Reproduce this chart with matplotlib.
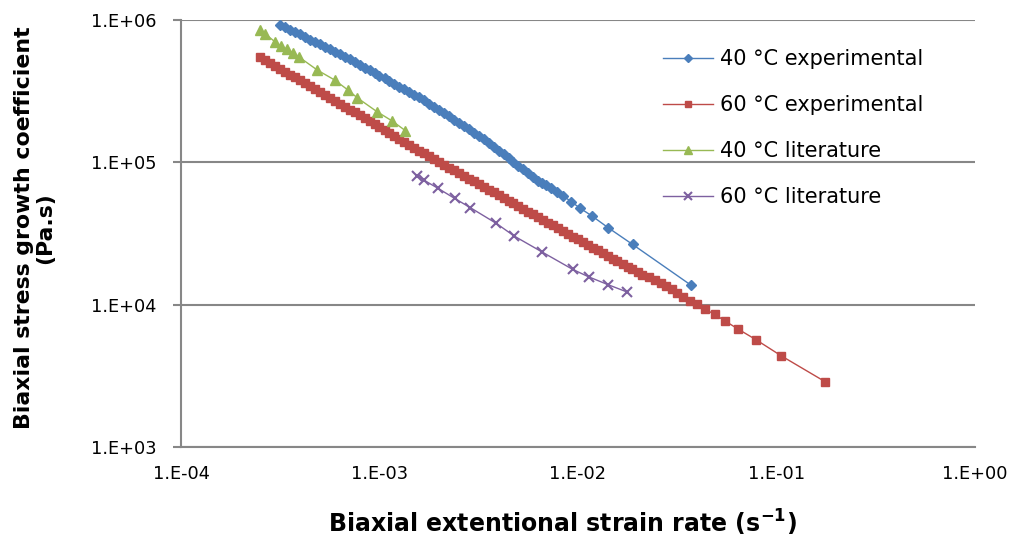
import numpy as np
import matplotlib
matplotlib.use('Agg')
import matplotlib.pyplot as plt
from matplotlib.ticker import FuncFormatter, LogLocator, NullLocator

plt.rcParams['font.family'] = ['DejaVu Sans']
plt.rcParams['mathtext.fontset'] = 'dejavusans'

# 40 °C experimental
exp40_rate = [3.16e-4, 3.35e-4, 3.55e-4, 3.76e-4, 3.98e-4, 4.22e-4, 4.47e-4, 4.73e-4, 5.01e-4, 5.31e-4,
              5.62e-4, 5.96e-4, 6.31e-4, 6.68e-4, 7.08e-4, 7.50e-4, 7.94e-4, 8.41e-4, 8.91e-4, 9.44e-4,
              1.00e-3, 1.06e-3, 1.12e-3, 1.19e-3, 1.26e-3, 1.33e-3, 1.41e-3, 1.50e-3, 1.58e-3, 1.68e-3,
              1.78e-3, 1.88e-3, 2.00e-3, 2.11e-3, 2.24e-3, 2.37e-3, 2.51e-3, 2.66e-3, 2.82e-3, 2.99e-3,
              3.16e-3, 3.35e-3, 3.55e-3, 3.76e-3, 3.98e-3, 4.22e-3, 4.47e-3, 4.73e-3, 5.01e-3, 5.31e-3,
              5.62e-3, 5.96e-3, 6.31e-3,
              6.57e-3, 6.88e-3, 7.29e-3, 7.81e-3, 8.43e-3, 9.25e-3, 1.027e-2, 1.176e-2, 1.416e-2, 1.884e-2, 3.70e-2]
exp40_eta = [9.29e5, 8.92e5, 8.57e5, 8.23e5, 7.91e5, 7.60e5, 7.29e5, 7.01e5, 6.73e5, 6.46e5,
             6.21e5, 5.96e5, 5.73e5, 5.50e5, 5.28e5, 5.06e5, 4.84e5, 4.63e5, 4.44e5, 4.25e5,
             4.06e5, 3.89e5, 3.72e5, 3.56e5, 3.41e5, 3.27e5, 3.13e5, 2.99e5, 2.86e5, 2.72e5,
             2.58e5, 2.45e5, 2.33e5, 2.21e5, 2.10e5, 1.99e5, 1.89e5, 1.80e5, 1.71e5, 1.62e5,
             1.54e5, 1.45e5, 1.36e5, 1.28e5, 1.21e5, 1.14e5, 1.07e5, 1.01e5, 9.48e4, 8.93e4,
             8.40e4, 7.91e4, 7.45e4,
             7.19e4, 6.90e4, 6.60e4, 6.22e4, 5.80e4, 5.29e4, 4.75e4, 4.20e4, 3.48e4, 2.65e4, 1.374e4]

# 60 °C experimental
exp60_rate = [2.51e-4, 2.66e-4, 2.82e-4, 2.99e-4, 3.16e-4, 3.35e-4, 3.55e-4, 3.76e-4, 3.98e-4, 4.22e-4,
              4.47e-4, 4.73e-4, 5.01e-4, 5.31e-4, 5.62e-4, 5.96e-4, 6.31e-4, 6.68e-4, 7.08e-4, 7.50e-4,
              7.94e-4, 8.41e-4, 8.91e-4, 9.44e-4, 1.00e-3, 1.06e-3, 1.12e-3, 1.19e-3, 1.26e-3, 1.33e-3,
              1.41e-3, 1.50e-3, 1.58e-3, 1.68e-3, 1.78e-3, 1.88e-3, 2.00e-3, 2.11e-3, 2.24e-3, 2.37e-3,
              2.51e-3, 2.66e-3, 2.82e-3, 2.99e-3, 3.16e-3, 3.35e-3, 3.55e-3, 3.76e-3, 3.98e-3, 4.22e-3,
              4.47e-3, 4.73e-3, 5.01e-3, 5.31e-3, 5.62e-3, 5.96e-3, 6.31e-3, 6.68e-3, 7.08e-3, 7.50e-3,
              7.94e-3, 8.41e-3, 8.91e-3, 9.44e-3, 1.00e-2, 1.06e-2, 1.12e-2, 1.19e-2, 1.26e-2, 1.33e-2,
              1.41e-2, 1.50e-2, 1.58e-2, 1.68e-2, 1.78e-2, 1.88e-2, 2.00e-2, 2.11e-2,
              2.284e-2, 2.440e-2, 2.607e-2, 2.772e-2, 2.961e-2, 3.137e-2, 3.387e-2, 3.66e-2, 3.985e-2,
              4.370e-2, 4.873e-2, 5.509e-2, 6.436e-2, 7.889e-2, 0.1054, 0.1755]
exp60_eta = [5.50e5, 5.24e5, 5.00e5, 4.77e5, 4.55e5, 4.34e5, 4.14e5, 3.95e5, 3.77e5, 3.59e5,
             3.43e5, 3.27e5, 3.12e5, 2.98e5, 2.84e5, 2.71e5, 2.58e5, 2.46e5, 2.35e5, 2.24e5,
             2.14e5, 2.04e5, 1.95e5, 1.86e5, 1.77e5, 1.69e5, 1.61e5, 1.54e5, 1.47e5, 1.40e5,
             1.33e5, 1.27e5, 1.21e5, 1.16e5, 1.10e5, 1.05e5, 1.00e5, 9.61e4, 9.19e4, 8.79e4,
             8.40e4, 8.04e4, 7.69e4, 7.35e4, 7.03e4, 6.73e4, 6.43e4, 6.15e4, 5.88e4, 5.63e4,
             5.38e4, 5.15e4, 4.92e4, 4.71e4, 4.50e4, 4.31e4, 4.12e4, 3.94e4, 3.77e4, 3.60e4,
             3.45e4, 3.30e4, 3.15e4, 3.01e4, 2.88e4, 2.76e4, 2.64e4, 2.52e4, 2.41e4, 2.31e4,
             2.21e4, 2.11e4, 2.02e4, 1.93e4, 1.85e4, 1.77e4, 1.69e4, 1.62e4,
             1.572e4, 1.491e4, 1.413e4, 1.353e4, 1.282e4, 1.213e4, 1.137e4, 1.065e4, 1.006e4,
             9.28e3, 8.56e3, 7.68e3, 6.71e3, 5.67e3, 4.38e3, 2.88e3]

# 40 °C literature
lit40_rate = [2.49e-4, 2.66e-4, 2.97e-4, 3.18e-4, 3.42e-4, 3.67e-4, 3.95e-4,
              4.86e-4, 5.94e-4, 6.94e-4, 7.73e-4, 9.71e-4, 1.16e-3, 1.35e-3]
lit40_eta = [8.51e5, 7.97e5, 7.04e5, 6.57e5, 6.22e5, 5.89e5, 5.47e5,
             4.45e5, 3.79e5, 3.22e5, 2.84e5, 2.27e5, 1.95e5, 1.67e5]

# 60 °C literature
lit60_rate = [1.54e-3, 1.67e-3, 1.97e-3, 2.39e-3, 2.87e-3, 3.87e-3,
              4.78e-3, 6.61e-3, 9.40e-3, 1.13e-2, 1.42e-2, 1.76e-2]
lit60_eta = [8.05e4, 7.51e4, 6.57e4, 5.58e4, 4.80e4, 3.73e4,
             3.03e4, 2.34e4, 1.77e4, 1.57e4, 1.38e4, 1.23e4]

labels = ['40 °C experimental', '60 °C experimental', '40 °C literature', '60 °C literature']

fig = plt.figure(figsize=(10.14, 5.42), dpi=100)
ax = fig.add_axes([0.1785, 0.1753, 0.7830, 0.7878])

ax.plot(exp40_rate, exp40_eta, color='#4A7EBB', lw=1, marker='D', ms=5.5, mec='#4A7EBB', label=labels[0])
ax.plot(exp60_rate, exp60_eta, color='#BE4B48', lw=1, marker='s', ms=6, mec='#BE4B48', label=labels[1])
ax.plot(lit40_rate, lit40_eta, color='#98B954', lw=1, marker='^', ms=7, mec='#98B954', label=labels[2])
ax.plot(lit60_rate, lit60_eta, color='#7D60A0', lw=1, marker='x', ms=6.5, mew=1.5, label=labels[3])

ax.set_xscale('log')
ax.set_yscale('log')
ax.set_xlim(1e-4, 1)
ax.set_ylim(1e3, 1e6)

ax.xaxis.set_major_locator(LogLocator(base=10, numticks=10))
ax.yaxis.set_major_locator(LogLocator(base=10, numticks=10))
ax.xaxis.set_minor_locator(NullLocator())
ax.yaxis.set_minor_locator(NullLocator())
fmt = FuncFormatter(lambda v, p: '1.E{:+03d}'.format(int(round(np.log10(v)))))
ax.xaxis.set_major_formatter(fmt)
ax.yaxis.set_major_formatter(fmt)

ax.grid(axis='y', color='#878787', lw=1.5)
ax.set_axisbelow(True)
for s in ['top', 'right']:
    ax.spines[s].set_visible(False)
for s in ['left', 'bottom']:
    ax.spines[s].set_color('#878787')
    ax.spines[s].set_linewidth(1.5)
ax.tick_params(axis='y', length=5.5, width=1.5, color='#878787', labelsize=12.8, pad=12)
ax.tick_params(axis='x', length=0, labelsize=12.8, pad=13)

ax.set_xlabel(r'Biaxial extentional strain rate (s$^{\mathbf{-1}}$)', fontsize=17, fontweight='bold')
ax.xaxis.set_label_coords(0.481, -0.142)
ax.set_ylabel('Biaxial stress growth coefficient\n(Pa.s)', fontsize=15.8, fontweight='bold', linespacing=1.12)
ax.yaxis.set_label_coords(-0.158, 0.513)

ax.legend(loc='upper left', bbox_to_anchor=(0.607, 0.931), frameon=False, fontsize=15,
          handlelength=2.4, labelspacing=1.24, handletextpad=0.35, numpoints=1, markerscale=0.8,
          borderaxespad=0, borderpad=0)

fig.savefig('out.png', dpi=100)
